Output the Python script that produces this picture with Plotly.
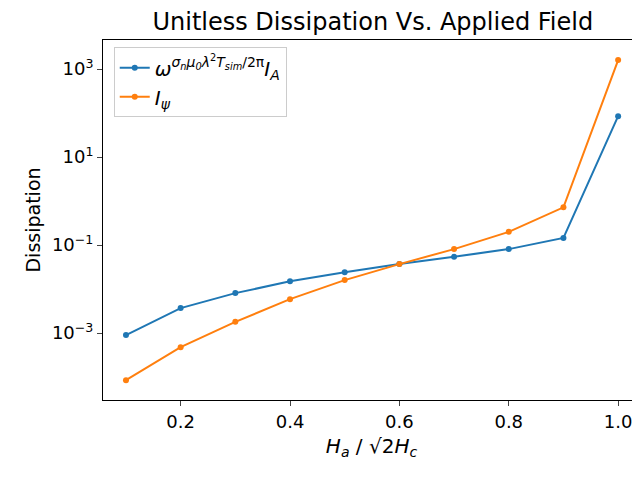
import plotly.graph_objects as go

field = [0.1, 0.2, 0.3, 0.4, 0.5, 0.6, 0.7, 0.8, 0.9, 1.0]
dissipation_a = [9.0e-4, 3.7e-3, 8.1e-3, 0.015, 0.024, 0.037, 0.054, 0.081, 0.145, 85]
dissipation_psi = [8.5e-5, 4.8e-4, 1.8e-3, 5.9e-3, 0.016, 0.037, 0.081, 0.2, 0.72, 1600]
tick_vals = [1e-3, 1e-1, 1e1, 1e3]
tick_text = ["10<sup>−3</sup>", "10<sup>−1</sup>", "10<sup>1</sup>", "10<sup>3</sup>"]

fig = go.Figure()
fig.add_trace(go.Scatter(
    x=field, y=dissipation_a, mode="lines+markers",
    name="<i>ω</i><sup><i>σ<sub>n</sub>μ<sub>0</sub>λ</i><sup>2</sup><i>T<sub>sim</sub></i>/2π</sup><i>I<sub>A</sub></i>",
    line=dict(color="#1f77b4", width=2), marker=dict(size=6)))
fig.add_trace(go.Scatter(
    x=field, y=dissipation_psi, mode="lines+markers",
    name="<i>I<sub>ψ</sub></i>",
    line=dict(color="#ff7f0e", width=2), marker=dict(size=6)))

axis_style = dict(showline=True, mirror=True, linecolor="black", ticks="outside",
                  showgrid=False, zeroline=False, tickfont=dict(size=18), automargin=False)
fig.update_layout(
    width=640, height=478,
    margin=dict(l=95, r=8, t=32, b=86),
    paper_bgcolor="white", plot_bgcolor="white",
    font=dict(family="DejaVu Sans", color="black"),
    title=dict(text="Unitless Dissipation Vs. Applied Field", x=0.57, y=0.99,
               yanchor="top", xanchor="center", font=dict(size=24)),
    legend=dict(x=0.02, y=0.98, bordercolor="#cccccc", borderwidth=1,
                font=dict(size=20), bgcolor="rgba(255,255,255,0.8)"),
    xaxis=dict(range=[0.058, 1.04], tickvals=[0.2, 0.4, 0.6, 0.8, 1.0],
               ticktext=["0.2", "0.4", "0.6", "0.8", "1.0"],
               title=dict(text="<i>H<sub>a</sub></i> / √2<i>H<sub>c</sub></i>", font=dict(size=20), standoff=8),
               **axis_style),
    yaxis=dict(type="log", range=[-4.52, 3.66], tickvals=tick_vals, ticktext=tick_text,
               title=dict(text="Dissipation", font=dict(size=19), standoff=6), **axis_style),
)
fig.write_html("out.html")
